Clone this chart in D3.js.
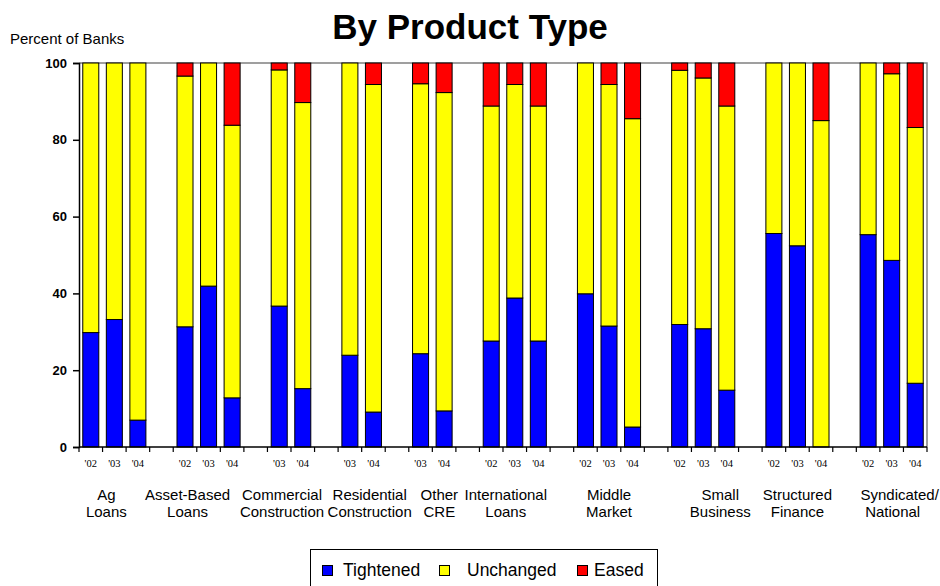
<!DOCTYPE html>
<html><head><meta charset="utf-8">
<script src="https://cdn.jsdelivr.net/npm/d3@7"></script>
<style>body{margin:0;background:#fff}svg{display:block}</style>
</head><body>
<svg id="c" width="940" height="586"></svg>
<script>
// ---- data ----
const categories = [["Ag","Loans"],["Asset-Based","Loans"],["Commercial","Construction"],["Residential","Construction"],["Other","CRE"],["International","Loans"],["Middle","Market"],["Small","Business"],["Structured","Finance"],["Syndicated/","National"]];
const years = [["'02","'03","'04"],["'02","'03","'04"],["'03","'04"],["'03","'04"],["'03","'04"],["'02","'03","'04"],["'02","'03","'04"],["'02","'03","'04"],["'02","'03","'04"],["'02","'03","'04"]];
const tightened = [[29.8,33.2,7.0],[31.3,41.9,12.8],[36.7,15.2],[23.9,9.1],[24.3,9.4],[27.6,38.8,27.6],[39.9,31.5,5.2],[31.9,30.8,14.8],[55.6,52.4,0],[55.3,48.6,16.6]];
const unchanged = [[70.2,66.8,93.0],[65.3,58.1,71.0],[61.5,74.5],[76.1,85.3],[70.3,82.9],[61.2,55.6,61.2],[60.1,62.9,80.3],[66.2,65.3,74.0],[44.4,47.6,85.0],[44.7,48.6,66.6]];
const eased = [[0,0,0],[3.4,0,16.2],[1.8,10.3],[0,5.6],[5.4,7.7],[11.2,5.6,11.2],[0,5.6,14.5],[1.9,3.9,11.2],[0,0,15.0],[0,2.8,16.8]];
const seriesNames = ["Tightened","Unchanged","Eased"];
const yTicks = [0,20,40,60,80,100];

// ---- layout ----
const colors = {Tightened:"#0000ff", Unchanged:"#ffff00", Eased:"#ff0000"};
const labelShift = [[-8,-8],[-21,-21],[-9,-9],[8,8],[7,7],[-9,-9],[0,0],[17,17],[0,0],[8,1]];
const L = 79, R = 927, T = 63, B = 447;
const FONT = "Liberation Sans, Arial, sans-serif";

// build slots (one empty slot between groups)
const slots = [], bars = [];
categories.forEach((c, gi) => {
  if (gi > 0) slots.push("gap" + gi);
  years[gi].forEach((yr, j) => {
    const key = gi + "-" + j;
    slots.push(key);
    bars.push({key, gi, yr, Tightened: tightened[gi][j], Unchanged: unchanged[gi][j], Eased: eased[gi][j]});
  });
});

const x = d3.scaleBand().domain(slots).range([L, R]).paddingInner(0.32).paddingOuter(0.16);
const y = d3.scaleLinear().domain([0, 100]).range([B, T]);
const stack = d3.stack().keys(seriesNames)(bars);

const svg = d3.select("#c");

// plot border (top & right)
svg.append("path").attr("d", `M${L},${T}H${R}V${B}`).attr("fill","none").attr("stroke","#808080").attr("stroke-width",1.5);

// bars
stack.forEach(s => {
  svg.append("g").selectAll("rect").data(s).join("rect")
    .attr("x", d => x(d.data.key))
    .attr("width", x.bandwidth())
    .attr("y", d => y(d[1]))
    .attr("height", d => y(d[0]) - y(d[1]))
    .attr("fill", colors[s.key])
    .attr("stroke", "#000").attr("stroke-width", 1)
    .attr("display", d => d[1] - d[0] > 0 ? null : "none");
});

// y axis
const ya = svg.append("g").attr("transform", `translate(${L},0)`)
  .call(d3.axisLeft(y).tickValues(yTicks).tickSize(6).tickPadding(6));
ya.select(".domain").attr("stroke","#000").attr("stroke-width",1.5);
ya.selectAll(".tick line").attr("stroke","#000").attr("stroke-width",1.5);
ya.selectAll("text").attr("font-family",FONT).attr("font-size",13).attr("font-weight","bold").attr("fill","#000");

// x axis line + ticks at slot boundaries
const step = x.step();
const boundaries = d3.range(slots.length + 1).map(i => L + i * step);
svg.append("line").attr("x1", L).attr("x2", R).attr("y1", B).attr("y2", B).attr("stroke","#000").attr("stroke-width",1.5);
svg.append("g").selectAll("line").data(boundaries).join("line")
  .attr("x1", d => d).attr("x2", d => d).attr("y1", B).attr("y2", B + 5)
  .attr("stroke","#000").attr("stroke-width",1.2);

// year labels
svg.append("g").selectAll("text").data(bars).join("text")
  .attr("x", d => x(d.key) + x.bandwidth() / 2)
  .attr("y", 467)
  .attr("text-anchor","middle")
  .attr("font-family","Liberation Serif, Times New Roman, serif")
  .attr("font-size",10.5).attr("fill","#000")
  .text(d => d.yr);

// category labels
categories.forEach((lines, gi) => {
  const ks = years[gi].map((_, j) => gi + "-" + j);
  const cx = (x(ks[0]) + x(ks[ks.length - 1]) + x.bandwidth()) / 2;
  const t = svg.append("text").attr("text-anchor","middle")
    .attr("font-family",FONT).attr("font-size",15).attr("fill","#000");
  lines.forEach((ln, i) => t.append("tspan").attr("x", cx + labelShift[gi][i]).attr("y", 500 + i * 17).text(ln));
});

// title & y label
svg.append("text").attr("x", 470).attr("y", 39).attr("text-anchor","middle")
  .attr("font-family",FONT).attr("font-size",35).attr("font-weight","bold")
  .text("By Product Type");
svg.append("text").attr("x", 10).attr("y", 44)
  .attr("font-family",FONT).attr("font-size",15)
  .text("Percent of Banks");

// legend
const lg = svg.append("g");
lg.append("rect").attr("x", 310.5).attr("y", 549.5).attr("width", 347).attr("height", 45)
  .attr("fill","#fff").attr("stroke","#000").attr("stroke-width",1);
const legendSq = [322, 439, 577];
const legendTx = [343, 467, 594];
seriesNames.forEach((n, i) => {
  lg.append("rect").attr("x", legendSq[i] + 0.5).attr("y", 565.5).attr("width", 10).attr("height", 10)
    .attr("fill", colors[n]).attr("stroke","#000").attr("stroke-width",1);
  lg.append("text").attr("x", legendTx[i]).attr("y", 576)
    .attr("font-family",FONT).attr("font-size",17.5).text(n);
});
</script>
</body></html>
